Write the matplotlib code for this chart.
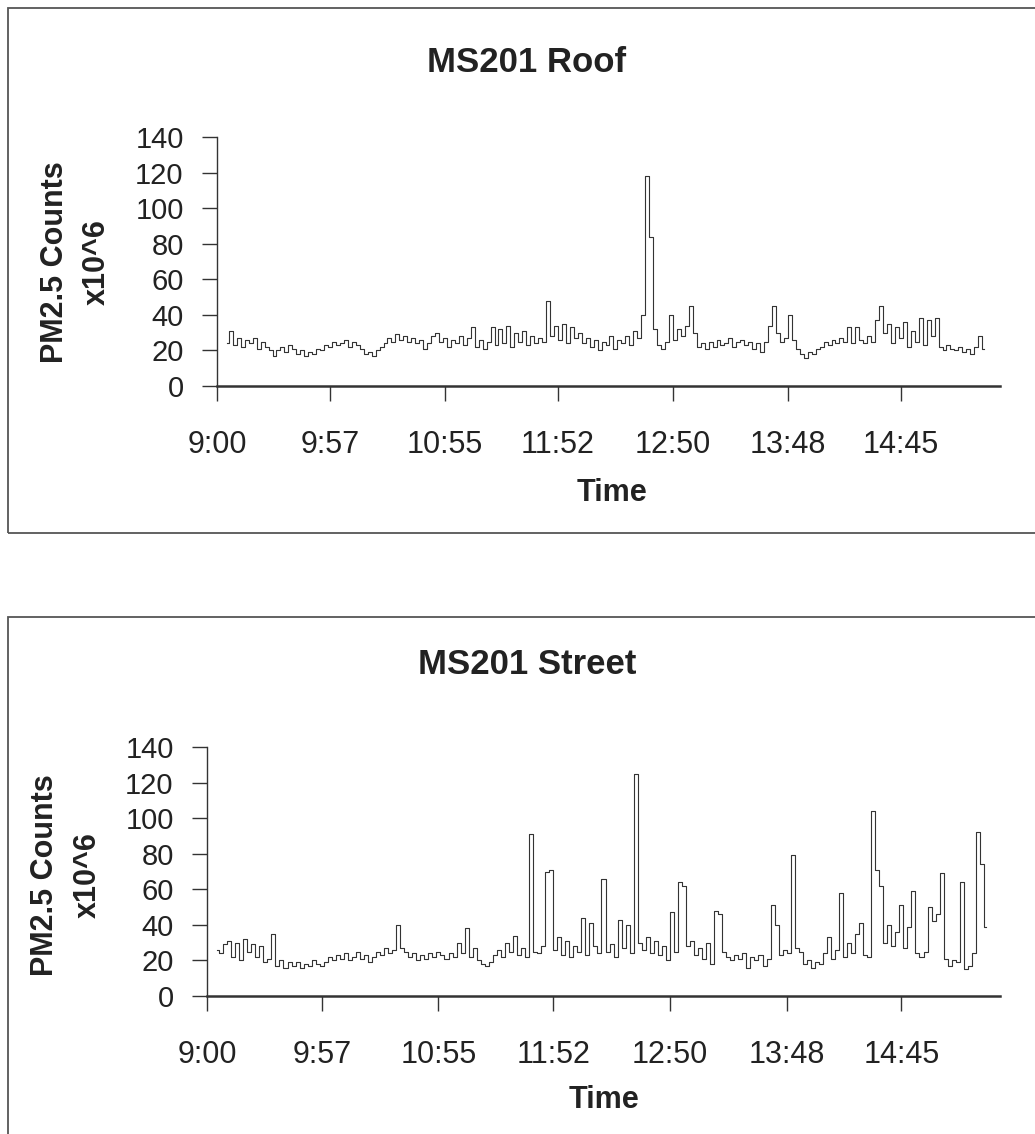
import numpy as np
import matplotlib
matplotlib.use("Agg")
import matplotlib.pyplot as plt
from matplotlib.patches import Rectangle

plt.rcParams['font.family'] = ['Liberation Sans', 'DejaVu Sans']

# sample times, minutes after 9:00 (one reading every 2 min)
minutes = np.arange(5, 389, 2)

# MS201 Roof, PM2.5 counts x10^6
roof = [24, 31, 23, 27, 22, 26, 24, 27, 21, 25,
        22, 20, 17, 20, 22, 19, 23, 21, 18, 20,
        17, 19, 18, 21, 20, 23, 22, 25, 23, 24,
        26, 22, 25, 23, 21, 18, 19, 17, 20, 22,
        24, 27, 25, 29, 26, 28, 25, 27, 24, 26,
        21, 24, 28, 30, 25, 27, 22, 26, 24, 28,
        23, 27, 33, 22, 26, 21, 25, 33, 23, 32,
        24, 34, 22, 30, 25, 31, 23, 28, 24, 27,
        25, 48, 28, 34, 26, 35, 24, 33, 27, 30,
        24, 27, 22, 26, 20, 25, 23, 28, 21, 26,
        24, 28, 23, 31, 27, 40, 118, 84, 32, 23,
        21, 25, 40, 26, 32, 28, 34, 45, 30, 22,
        24, 21, 25, 22, 26, 23, 24, 27, 22, 25,
        26, 23, 25, 21, 24, 19, 25, 34, 45, 30,
        25, 27, 40, 26, 21, 18, 16, 19, 18, 21,
        22, 25, 23, 26, 24, 27, 25, 33, 24, 33,
        26, 24, 28, 25, 37, 45, 30, 35, 24, 33,
        27, 36, 22, 31, 25, 38, 23, 37, 28, 38,
        22, 20, 23, 21, 20, 22, 19, 21, 18, 22, 28, 21]

# MS201 Street, PM2.5 counts x10^6
street = [26, 24, 29, 31, 22, 30, 20, 32, 25, 29,
          22, 28, 19, 21, 35, 17, 20, 16, 19, 17,
          19, 16, 18, 17, 20, 18, 17, 19, 22, 20,
          23, 21, 24, 20, 22, 25, 21, 23, 19, 22,
          25, 23, 27, 24, 26, 40, 27, 25, 22, 24,
          20, 23, 21, 24, 22, 25, 23, 21, 24, 22,
          30, 24, 38, 22, 27, 20, 18, 17, 19, 23,
          26, 22, 30, 25, 34, 23, 27, 22, 91, 25,
          24, 28, 70, 71, 26, 33, 23, 31, 22, 28,
          25, 44, 23, 41, 28, 24, 66, 25, 29, 22,
          43, 27, 40, 24, 125, 30, 26, 33, 24, 31,
          23, 28, 20, 47, 25, 64, 62, 28, 31, 23,
          27, 21, 30, 18, 48, 46, 25, 22, 20, 23,
          21, 24, 16, 22, 20, 23, 17, 21, 51, 40,
          23, 26, 24, 79, 27, 25, 18, 20, 16, 19,
          18, 24, 33, 21, 26, 58, 22, 30, 24, 35,
          41, 23, 22, 104, 71, 62, 30, 40, 28, 36,
          51, 27, 39, 59, 24, 22, 25, 50, 42, 46,
          69, 21, 17, 20, 19, 64, 15, 17, 24, 92, 74, 39]

tick_minutes = [0, 57, 115, 172, 230, 288, 345]
tick_labels = ['9:00', '9:57', '10:55', '11:52', '12:50', '13:48', '14:45']
titles = ['MS201 Roof', 'MS201 Street']

W, H = 1035, 1134
fig = plt.figure(figsize=(W / 100, H / 100), dpi=100)


def fx(px):
    return px / W


def fy(py):
    return 1 - py / H


# panel layout in pixels: axes left, right, y of 0, y of 140, box top, box bottom
panels = [
    dict(left=217, right=1000, y0=386, y140=137, box_top=8, box_bot=533,
         title_y=62, time_x=612, time_y=493, lab_x=(55, 97), lab_y=262, xmax=395),
    dict(left=207, right=1000, y0=996, y140=747, box_top=617, box_bot=1140,
         title_y=665, time_x=604, time_y=1100, lab_x=(45, 88), lab_y=875, xmax=394),
]

for p, values, title in zip(panels, [roof, street], titles):
    # frame around each chart
    fig.patches.append(Rectangle((fx(8), fy(p['box_bot'])), fx(1100), fy(p['box_top']) - fy(p['box_bot']),
                                 transform=fig.transFigure, fill=False, edgecolor='#555555', lw=1.3))

    ax = fig.add_axes([fx(p['left']), fy(p['y0']), fx(p['right'] - p['left']), fy(p['y140']) - fy(p['y0'])])
    ax.plot(minutes, values, color='#333333', lw=0.8, drawstyle='steps-mid')
    ax.set_xlim(0, p['xmax'])
    ax.set_ylim(0, 140)
    ax.set_yticks(range(0, 141, 20))
    ax.set_xticks(tick_minutes)
    ax.set_xticklabels(tick_labels)
    for s in ['top', 'right']:
        ax.spines[s].set_visible(False)
    ax.spines['left'].set_color('#333333')
    ax.spines['left'].set_linewidth(1.0)
    ax.spines['bottom'].set_color('#333333')
    ax.spines['bottom'].set_linewidth(1.8)
    ax.tick_params(axis='both', direction='out', length=11, width=1.0, color='#333333',
                   labelsize=21, labelcolor='#222222')
    ax.tick_params(axis='x', pad=21, labelsize=22)
    ax.tick_params(axis='y', pad=13)

    fig.text(fx(527), fy(p['title_y']), title, ha='center', va='center',
             fontsize=25, fontweight='bold', color='#222222')
    fig.text(fx(p['time_x']), fy(p['time_y']), 'Time', ha='center', va='center',
             fontsize=22, fontweight='bold', color='#222222')
    fig.text(fx(p['lab_x'][0]), fy(p['lab_y']), 'PM2.5 Counts', ha='center', va='center',
             rotation=90, fontsize=22, fontweight='bold', color='#222222')
    fig.text(fx(p['lab_x'][1]), fy(p['lab_y']), 'x10^6', ha='center', va='center',
             rotation=90, fontsize=22, fontweight='bold', color='#222222')

fig.savefig('out.png', dpi=100)
